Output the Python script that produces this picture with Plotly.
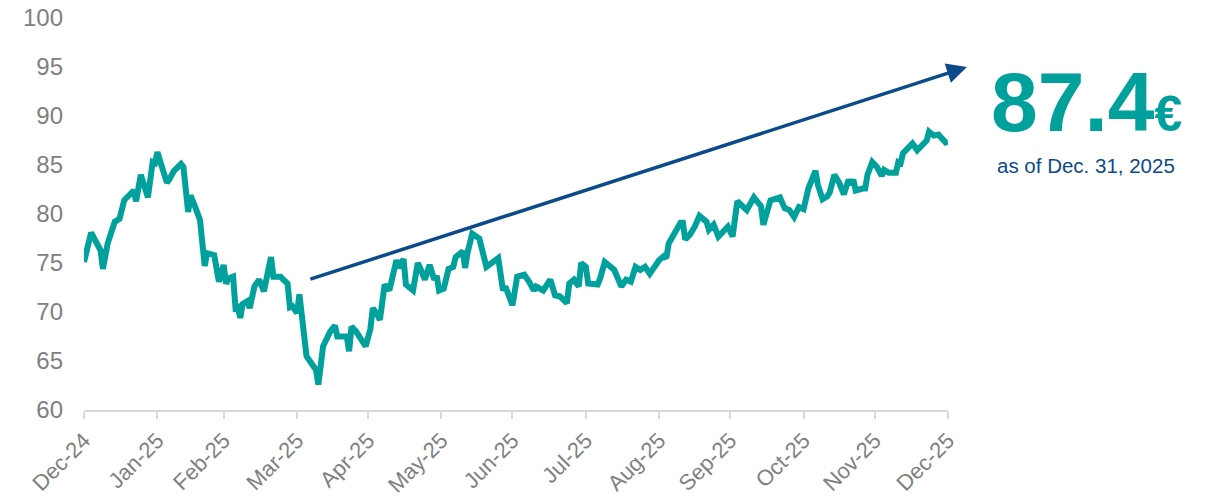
import pandas as pd
import plotly.graph_objects as go

# share price: calendar days after 2024-12-31 and price in EUR
day_offsets = [
    0, 3, 7, 8, 10, 13, 15, 16, 17, 21, 22, 24, 27, 29, 30, 31, 35, 36, 38, 41,
    42, 44, 45, 47, 49, 51, 52, 55, 57, 59, 60, 61, 63, 64, 65, 66, 67, 69, 70, 72,
    74, 76, 79, 80, 83, 86, 87, 88, 90, 91, 94, 96, 98, 99, 101, 104, 106, 107, 111, 112,
    113, 115, 117, 119, 121, 122, 124, 125, 127, 129, 132, 133, 135, 136, 139, 141, 142, 144, 146, 148,
    149, 150, 152, 154, 156, 157, 160, 161, 162, 164, 167, 168, 170, 175, 177, 178, 181, 183, 186, 188,
    190, 191, 194, 197, 199, 201, 204, 205, 207, 209, 210, 212, 213, 217, 218, 220, 224, 227, 229, 231,
    233, 235, 237, 239, 241, 243, 245, 246, 247, 250, 252, 253, 254, 256, 258, 260, 263, 264, 266, 268,
    270, 272, 274, 276, 280, 283, 286, 287, 290, 292, 294, 296, 298, 300, 302, 304, 306, 309, 310, 312,
    314, 315, 317, 319, 321, 323, 324, 325, 326, 329, 330, 331, 333, 335, 337, 338, 340, 343, 344, 345,
    346, 348, 350, 352, 354, 356, 357, 359, 361, 363, 364, 365,
]
prices = [
    75.1, 78.1, 76.3, 74.4, 77.0, 79.2, 79.5, 80.4, 81.4, 82.4, 81.3, 84.0, 81.7, 85.3, 85.2, 86.3, 83.2, 83.5, 84.4, 85.1,
    84.8, 80.2, 81.9, 80.7, 79.4, 74.7, 76.0, 75.8, 73.1, 74.8, 72.9, 73.4, 73.6, 70.4, 70.5, 69.4, 70.8, 71.1, 70.4, 72.6,
    73.3, 72.1, 75.6, 73.6, 73.6, 72.9, 70.5, 70.6, 69.9, 71.8, 65.5, 64.8, 64.1, 62.6, 66.5, 68.0, 68.6, 67.5, 67.5, 66.0,
    68.5, 68.0, 67.3, 66.5, 68.3, 70.4, 69.7, 69.2, 72.8, 72.2, 75.3, 74.5, 75.4, 72.8, 72.2, 75.0, 74.5, 73.3, 74.8, 73.3,
    73.7, 72.2, 72.4, 74.4, 74.6, 75.6, 76.2, 74.5, 76.0, 78.0, 77.5, 76.7, 74.6, 75.5, 72.2, 72.6, 70.7, 73.6, 73.8, 73.1,
    72.2, 72.6, 72.2, 73.3, 71.7, 71.6, 70.9, 72.9, 73.3, 72.6, 75.0, 74.6, 72.9, 72.8, 73.4, 75.1, 74.3, 72.6, 73.3, 73.1,
    74.6, 74.3, 74.6, 73.9, 74.6, 75.3, 75.7, 75.5, 77.0, 78.4, 79.1, 79.1, 77.4, 77.9, 78.7, 79.8, 79.2, 78.4, 78.9, 77.7,
    78.2, 78.7, 77.7, 81.3, 80.4, 81.7, 80.8, 78.9, 81.4, 81.6, 81.7, 80.6, 80.4, 79.7, 80.7, 80.5, 82.6, 84.4, 83.0, 81.5,
    81.8, 82.2, 84.0, 83.2, 82.0, 83.5, 83.0, 83.5, 82.4, 82.6, 82.6, 84.0, 85.3, 84.8, 83.9, 84.5, 84.2, 84.2, 85.3, 85.2,
    86.2, 86.7, 87.2, 86.5, 87.0, 87.5, 88.4, 88.0, 88.1, 87.6, 87.3, 87.4,
]

month_ends = ["2024-12-31", "2025-01-31", "2025-02-28", "2025-03-31", "2025-04-30", "2025-05-31",
              "2025-06-30", "2025-07-31", "2025-08-31", "2025-09-30", "2025-10-31", "2025-11-30",
              "2025-12-31"]
y_ticks = [60, 65, 70, 75, 80, 85, 90, 95, 100]

# trend arrow: from early-April low area up to the target
arrow_start = ("2025-04-05", 73.3)
arrow_end = ("2026-01-08", 95.0)

last_price = "87.4"
as_of = "as of Dec. 31, 2025"

teal = "#00A09D"
navy = "#0B4A8B"
grey = "#808080"
font = "Arial, Liberation Sans, sans-serif"

dates = pd.Timestamp("2024-12-31") + pd.to_timedelta(day_offsets, unit="D")

fig = go.Figure()
fig.add_trace(go.Scatter(
    x=dates, y=prices, mode="lines",
    line=dict(color=teal, width=6),
    cliponaxis=False, showlegend=False, hoverinfo="skip"))

fig.add_annotation(
    x=arrow_end[0], y=arrow_end[1], ax=arrow_start[0], ay=arrow_start[1],
    xref="x", yref="y", axref="x", ayref="y",
    showarrow=True, arrowhead=2, arrowsize=1.15, arrowwidth=3.5,
    arrowcolor=navy, text="")

fig.add_annotation(
    x=1.16, y=0.785, xref="paper", yref="paper",
    xanchor="center", yanchor="middle", showarrow=False,
    text="<b>" + last_price + "<span style='font-size:50px'>€</span></b>",
    font=dict(family=font, size=84, color=teal))

fig.add_annotation(
    x=1.16, y=0.625, xref="paper", yref="paper",
    xanchor="center", yanchor="middle", showarrow=False,
    text=as_of, font=dict(family=font, size=20.5, color=navy))

fig.update_xaxes(
    range=["2024-12-31", "2025-12-31"], automargin=False,
    tickvals=month_ends, tickformat="%b-%y", tickangle=-45,
    tickfont=dict(family=font, size=22, color=grey),
    showgrid=False, zeroline=False,
    showline=True, linecolor="#D9D9D9", linewidth=2,
    ticks="outside", ticklen=7, tickcolor="#D9D9D9", tickwidth=2)

fig.update_yaxes(
    range=[60, 100], tickvals=y_ticks, automargin=False,
    tickfont=dict(family=font, size=24, color=grey),
    showgrid=False, zeroline=False, showline=False,
    ticks="", ticklabelstandoff=20, ticklabeloverflow="allow")

fig.update_layout(
    width=1204, height=490,
    margin=dict(l=76, r=264, t=10, b=88),
    plot_bgcolor="white", paper_bgcolor="white")

fig.write_html("out.html")
